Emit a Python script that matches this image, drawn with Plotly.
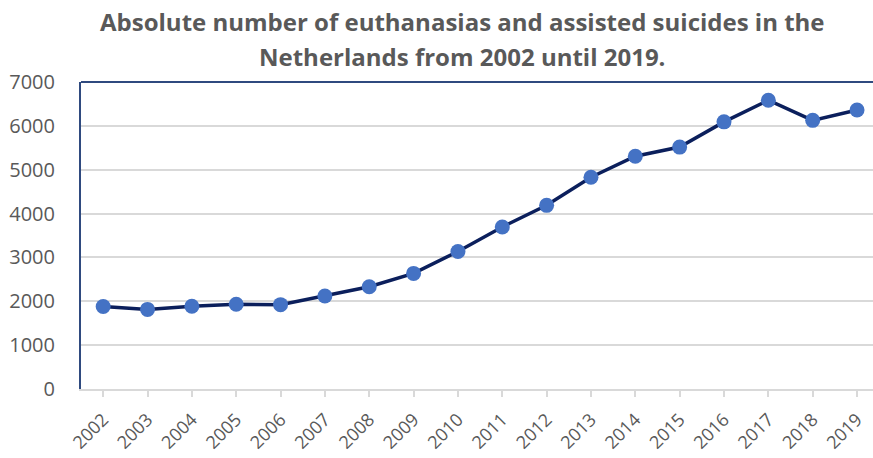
import plotly.graph_objects as go

years = [str(y) for y in range(2002, 2020)]
counts = [1882, 1815, 1886, 1933, 1923, 2120, 2331, 2636, 3136, 3695,
          4188, 4829, 5306, 5516, 6091, 6585, 6126, 6361]
y_ticks = [0, 1000, 2000, 3000, 4000, 5000, 6000, 7000]
title_lines = ["Absolute number of euthanasias and assisted suicides in the",
               "Netherlands from 2002 until 2019."]

fig = go.Figure()
fig.add_trace(go.Scatter(
    x=list(range(len(years))), y=counts, mode="lines+markers",
    line=dict(color="#0B1F5C", width=3.5),
    marker=dict(color="#4472C4", size=15),
    showlegend=False,
))

annotations = []
for i, (t, ypix) in enumerate(zip(title_lines, [22, 57])):
    annotations.append(dict(
        text=f"<b>{t}</b>", xref="paper", yref="paper",
        x=(462 - 81) / (873 - 81), y=1 + (82 - ypix) / (458 - 82 - 69),
        xanchor="center", yanchor="middle", showarrow=False,
        font=dict(size=24, color="#595959", family="Open Sans, sans-serif"),
    ))

fig.update_layout(
    width=873, height=458,
    margin=dict(l=81, r=0, t=82, b=69),
    paper_bgcolor="white", plot_bgcolor="white",
    font=dict(family="Open Sans, Calibri, sans-serif", color="#595959"),
    annotations=annotations,
    xaxis=dict(
        tickmode="array", tickvals=list(range(len(years))), ticktext=years,
        range=[-0.5, 17.36], tickangle=-45, automargin=False,
        showgrid=False, zeroline=False,
        showline=True, linecolor="#D9D9D9", linewidth=2,
        ticks="outside", ticklen=6, tickcolor="#D9D9D9", tickwidth=1.5,
        ticklabelstandoff=5,
        tickfont=dict(size=18, color="#595959"),
    ),
    yaxis=dict(
        range=[0, 7000], tickvals=y_ticks, automargin=False,
        showgrid=True, gridcolor="#D9D9D9", gridwidth=1.5,
        zeroline=False, showline=True, linecolor="#2F4A7F", linewidth=2,
        ticks="", ticklabelstandoff=20,
        tickfont=dict(size=20, color="#595959"),
    ),
    shapes=[dict(type="line", xref="paper", yref="paper", x0=0, x1=1, y0=1, y1=1,
                 line=dict(color="#2F4A7F", width=2))],
)

fig.write_html("out.html")
